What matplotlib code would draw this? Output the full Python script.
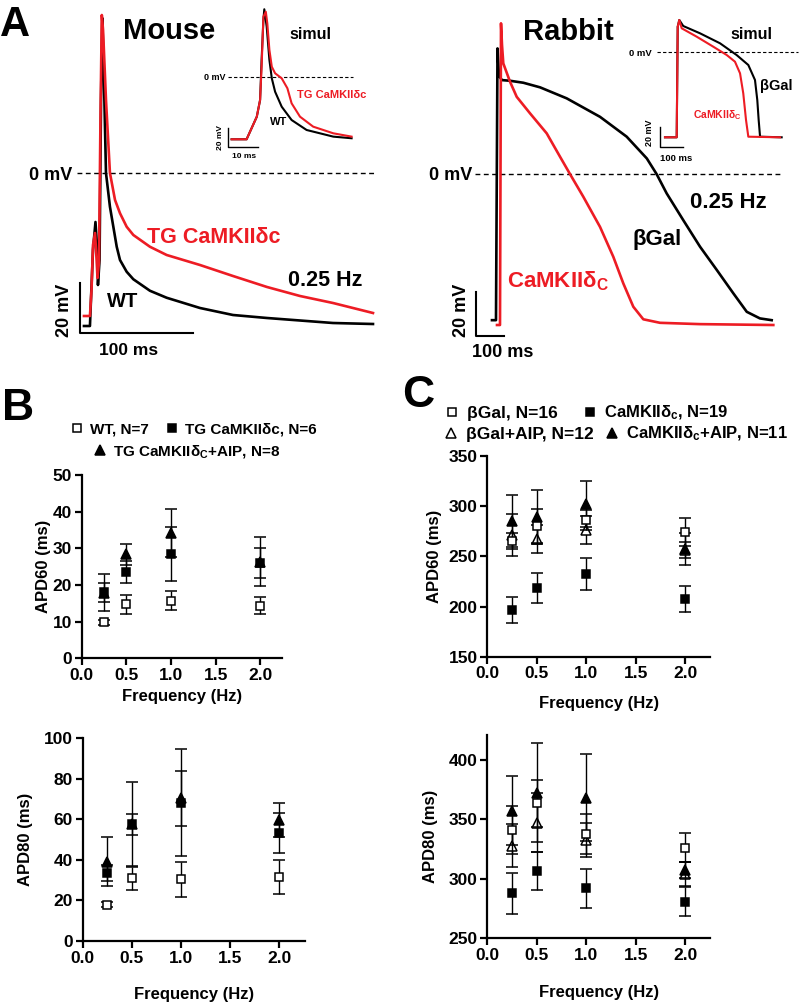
import matplotlib
matplotlib.use('Agg')
import matplotlib.pyplot as plt
from matplotlib.ticker import FormatStrFormatter, MultipleLocator

plt.rcParams['font.family'] = ['Liberation Sans', 'DejaVu Sans']
plt.rcParams['font.weight'] = 'bold'
plt.rcParams['axes.labelweight'] = 'bold'
plt.rcParams['mathtext.fontset'] = 'custom'
plt.rcParams['mathtext.rm'] = 'Liberation Sans:bold'
plt.rcParams['mathtext.bf'] = 'Liberation Sans:bold'
plt.rcParams['mathtext.it'] = 'Liberation Sans:bold'

# ---------------- data: action potential traces (time ms, voltage mV) ----------------
mouse_wt_t = [3.5, 8.8, 9.7, 11.5, 13.7, 15.0, 15.9, 17.3, 18.6, 19.7, 20.8, 23.0, 26.5,
              29.5, 32.5, 35.4, 41.3, 47.2, 61.9, 76.7, 106.2, 135.4, 165.5, 223.9, 259.3]
mouse_wt_v = [-61.2, -61.2, -50.8, -30.8, -19.6, -28.8, -44.8, -34.8, 29.2, 62.0, 45.2, 0.0, -13.5,
              -21.5, -29.5, -34.8, -39.5, -42.5, -47.1, -49.9, -54.0, -56.8, -58.0, -60.0, -60.4]
mouse_tg_t = [3.5, 8.8, 10.2, 11.5, 13.3, 14.6, 15.5, 16.8, 18.1, 19.3, 20.4, 23.0, 26.5,
              31.0, 35.4, 41.3, 47.2, 61.9, 76.7, 106.2, 135.4, 165.5, 194.7, 223.9, 259.3]
mouse_tg_v = [-57.2, -57.2, -46.8, -28.8, -24.0, -34.0, -42.0, -35.6, 21.2, 63.2, 57.2, 29.2, 0.0,
              -10.8, -16.1, -21.5, -24.8, -29.5, -32.8, -36.8, -41.2, -45.6, -49.2, -52.0, -56.0]

sim_mouse_wt_t = [1.2, 6.2, 9.6, 10.7, 11.2, 11.8, 12.1, 12.9, 13.8, 14.6, 15.7, 17.9, 21.2, 26.2, 35.1, 41.2]
sim_mouse_wt_v = [-65.6, -65.6, -41.8, -24.2, 17.9, 60.0, 71.3, 52.9, 17.9, -1.4, -15.5, -31.3, -45.3, -55.8, -62.8, -64.5]
sim_mouse_tg_t = [1.2, 6.2, 9.6, 10.7, 11.2, 11.8, 12.6, 13.1, 13.8, 14.6, 15.7, 17.9, 19.8, 21.2, 24.0, 28.4, 35.1, 41.2]
sim_mouse_tg_v = [-65.6, -65.6, -41.8, -24.2, 10.8, 63.5, 68.7, 56.5, 28.4, 10.8, 3.9, -1.4, -11.9, -27.7, -41.8, -52.3, -59.3, -62.8]

rabbit_bgal_t = [57.1, 71.4, 76.8, 82.1, 92.9, 121.4, 169.0, 229.0, 324.0, 443.0, 538.0, 610.0, 645.0,
                 681.0, 740.0, 800.0, 860.0, 919.0, 967.0, 1014.0, 1056.0]
rabbit_bgal_v = [-66.4, -66.4, 57.1, 44.5, 42.7, 42.4, 41.5, 39.4, 34.4, 26.0, 17.0, 7.1, 0.0,
                 -8.8, -20.9, -33.0, -43.6, -54.2, -62.6, -65.6, -66.4]
rabbit_camk_t = [75.0, 85.7, 89.3, 92.9, 97.5, 121.4, 145.4, 192.9, 252.5, 300.0, 335.7, 383.2, 442.9,
                 490.4, 526.1, 561.8, 597.5, 657.1, 800.0, 1061.8]
rabbit_camk_v = [-68.6, -68.6, 68.5, 58.6, 50.3, 42.0, 35.1, 27.6, 18.5, 7.9, 0.0, -10.3, -24.0,
                 -37.6, -49.7, -60.3, -66.0, -67.6, -68.2, -68.6]

sim_rabbit_bgal_t = [21.7, 72.6, 77.0, 83.9, 101.0, 174.0, 261.0, 333.0, 384.0, 413.0, 423.0, 429.0, 435.0, 529.0]
sim_rabbit_bgal_v = [-85.3, -85.3, 25.3, 32.0, 26.0, 18.7, 8.7, -3.0, -13.0, -28.0, -48.0, -68.0, -84.7, -85.3]
sim_rabbit_camk_t = [21.7, 72.6, 77.0, 83.9, 94.3, 159.6, 231.7, 290.0, 326.0, 348.0, 362.0, 374.0, 384.0, 522.0]
sim_rabbit_camk_v = [-85.3, -85.3, 25.3, 32.0, 23.7, 15.3, 5.3, -3.0, -9.7, -21.3, -41.3, -68.0, -84.7, -85.3]

# ---------------- data: APD summary (mean, SEM) ----------------
freqs = [0.25, 0.5, 1.0, 2.0]

wt60 = [9.8, 14.7, 15.7, 14.4];        wt60_err = [0.6, 2.7, 2.6, 2.4]
tg60 = [18.0, 23.5, 28.4, 26.1];       tg60_err = [5.0, 3.0, 7.3, 4.1]
tgaip60 = [17.9, 28.4, 34.1, 26.4];    tgaip60_err = [2.6, 2.9, 6.5, 6.8]

wt80 = [18.0, 30.9, 30.4, 31.7];       wt80_err = [1.0, 5.5, 8.7, 8.3]
tg80 = [33.7, 57.7, 68.2, 53.4];       tg80_err = [4.0, 5.2, 26.3, 9.8]
tgaip80 = [39.1, 57.8, 70.4, 59.7];    tgaip80_err = [12.0, 20.8, 13.6, 8.3]

bgal60 = [265.6, 280.6, 286.2, 274.3];      bgal60_err = [8.0, 17.0, 10.0, 13.6]
camk60 = [196.5, 218.2, 232.4, 207.8];      camk60_err = [13.3, 15.0, 16.0, 12.8]
bgalaip60 = [271.3, 267.3, 276.3, 256.4];   bgalaip60_err = [21.0, 14.0, 14.0, 8.0]
camkaip60 = [285.2, 288.9, 302.2, 257.4];   camkaip60_err = [26.0, 27.0, 23.0, 16.0]

bgal80 = [341.1, 363.5, 337.7, 326.2];      bgal80_err = [20.5, 20.0, 17.0, 12.0]
camk80 = [287.8, 306.9, 292.0, 280.8];      camk80_err = [17.0, 16.0, 16.5, 12.0]
bgalaip80 = [327.9, 347.2, 332.7, 303.8];   bgalaip80_err = [18.0, 25.0, 14.0, 10.0]
camkaip80 = [357.1, 372.5, 368.3, 307.4];   camkaip80_err = [29.0, 41.5, 36.5, 7.0]

# ---------------- layout helpers ----------------
RED = '#ed1c24'
W, H = 800, 1006
fig = plt.figure(figsize=(W / 100, H / 100), dpi=100)


def box(l, t, r, b):
    return [l / W, 1 - b / H, (r - l) / W, (b - t) / H]


def P(x, y):
    return (x / W, 1 - y / H)


def txt(x, y, s, size, color='k', ha='left', va='baseline', rot=0):
    fig.text(*P(x, y), s, fontsize=size, color=color, ha=ha, va=va, rotation=rot,
             fontweight='bold')


DASH = (0, (3.5, 2.5))

# ---------------- Panel A: mouse ----------------
axm = fig.add_axes(box(0, 0, 400, 360))
axm.set_axis_off()
axm.set_xlim(-70.8, 283.2)
axm.set_ylim(-74.8, 69.2)
axm.plot([-2.7, 261], [0, 0], color='k', lw=1.0, ls=DASH)
axm.plot(mouse_wt_t, mouse_wt_v, color='k', lw=1.9, solid_joinstyle='round')
axm.plot(mouse_tg_t, mouse_tg_v, color=RED, lw=1.9, solid_joinstyle='round')
axm.plot([0, 0, 100], [-44, -64, -64], color='k', lw=1.5)

axmi = fig.add_axes(box(195, 0, 360, 160))
axmi.set_axis_off()
axmi.set_xlim(-11, 44)
axmi.set_ylim(-87.4, 81.05)
axmi.plot([0, 41.7], [0, 0], color='k', lw=0.8, ls=(0, (3, 2)))
axmi.plot(sim_mouse_wt_t, sim_mouse_wt_v, color='k', lw=1.5, solid_joinstyle='round')
axmi.plot(sim_mouse_tg_t, sim_mouse_tg_v, color=RED, lw=1.5, solid_joinstyle='round')
axmi.plot([0, 0, 10], [-54, -74, -74], color='k', lw=1.0)

# ---------------- Panel A: rabbit ----------------
axr = fig.add_axes(box(400, 0, 800, 360))
axr.set_axis_off()
axr.set_xlim(-271.4, 1157.1)
axr.set_ylim(-84.5, 79.1)
axr.plot([-3.6, 1096], [0, 0], color='k', lw=1.0, ls=DASH)
axr.plot(rabbit_bgal_t, rabbit_bgal_v, color='k', lw=1.9, solid_joinstyle='round')
axr.plot(rabbit_camk_t, rabbit_camk_v, color=RED, lw=1.9, solid_joinstyle='round')
axr.plot([0, 0, 100], [-53.6, -73.6, -73.6], color='k', lw=1.5)

axri = fig.add_axes(box(620, 0, 800, 160))
axri.set_axis_off()
axri.set_xlim(-173.9, 608.7)
axri.set_ylim(-108, 52)
axri.plot([-13, 600], [0, 0], color='k', lw=0.8, ls=(0, (3, 2)))
axri.plot(sim_rabbit_bgal_t, sim_rabbit_bgal_v, color='k', lw=1.5, solid_joinstyle='round')
axri.plot(sim_rabbit_camk_t, sim_rabbit_camk_v, color=RED, lw=1.5, solid_joinstyle='round')
axri.plot([0, 0, 100], [-75, -95, -95], color='k', lw=1.0)

# texts panel A
txt(0, 36.5, 'A', 30)
txt(123, 39, 'Mouse', 21)
txt(310, 39, 'simul', 11.5, ha='center')
txt(225, 80, '0 mV', 6.5, ha='right')
txt(297, 98, 'TG CaMKIIδc', 8, color=RED)
txt(270, 125, 'WT', 8)
txt(220, 138, '20 mV', 6, ha='center', va='center', rot=90)
txt(232, 158, '10 ms', 6)
txt(72, 180, '0 mV', 13, ha='right')
txt(147, 243, 'TG CaMKIIδc', 15.5, color=RED)
txt(288, 286, '0.25 Hz', 15.5)
txt(107, 307, 'WT', 14.5)
txt(64.5, 310, '20 mV', 13, ha='center', va='center', rot=90)
txt(99, 355, '100 ms', 12.5)

txt(523, 40, 'Rabbit', 21)
txt(751, 39, 'simul', 11.5, ha='center')
txt(652, 56, '0 mV', 6.8, ha='right')
txt(760, 90, 'βGal', 10.5)
txt(693, 118, 'CaMKIIδ$_\\mathbf{C}$', 7.5, color=RED)
txt(649, 133, '20 mV', 6.5, ha='center', va='center', rot=90)
txt(660, 161, '100 ms', 6.8)
txt(472, 180, '0 mV', 13, ha='right')
txt(690, 208, '0.25 Hz', 16)
txt(633, 245, 'βGal', 16)
txt(507, 287, 'CaMKIIδ$_\\mathbf{C}$', 16, color=RED)
txt(462, 310, '20 mV', 13, ha='center', va='center', rot=90)
txt(472, 357, '100 ms', 13)

txt(2, 420, 'B', 32)
txt(402, 407, 'C', 32)


# ---------------- Panels B and C ----------------
def style(ax, xmax, ylo, yhi, ystep):
    ax.set_xlim(0, xmax)
    ax.set_ylim(ylo, yhi)
    for s in ('top', 'right'):
        ax.spines[s].set_visible(False)
    for s in ('left', 'bottom'):
        ax.spines[s].set_linewidth(1.6)
    ax.xaxis.set_major_locator(MultipleLocator(0.5))
    ax.xaxis.set_major_formatter(FormatStrFormatter('%.1f'))
    ax.yaxis.set_major_locator(MultipleLocator(ystep))
    ax.tick_params(direction='out', length=5, width=1.6, labelsize=12.5, pad=2)
    for lab in ax.get_xticklabels() + ax.get_yticklabels():
        lab.set_fontweight('bold')
    ax.patch.set_alpha(0)


def series(ax, y, e, marker, filled, ms, z):
    return ax.errorbar(freqs, y, yerr=e, fmt=marker, ms=ms,
                       mfc='k' if filled else 'white', mec='k', mew=1.1,
                       ecolor='k', elinewidth=1.0, capsize=4, capthick=1.0,
                       clip_on=False, zorder=z)


def legend_entry(handle, label, x, y, size):
    lg = fig.legend([handle], [label], loc='center left', bbox_to_anchor=P(x, y),
                    frameon=False, borderpad=0, borderaxespad=0, handlelength=0.8,
                    handletextpad=0.45, prop={'size': size, 'weight': 'bold'})
    return lg


# B top: APD60
axb1 = fig.add_axes(box(81.7, 475, 281.7, 658.3))
style(axb1, 2.24, 0, 50, 10)
h_tgaip = series(axb1, tgaip60, tgaip60_err, '^', True, 6.5, 3)
h_wt = series(axb1, wt60, wt60_err, 's', False, 6, 4)
h_tg = series(axb1, tg60, tg60_err, 's', True, 6, 5)
axb1.set_ylabel('APD60 (ms)', fontsize=12)
axb1.set_xlabel('Frequency (Hz)', fontsize=12)
axb1.yaxis.set_label_coords(-0.1535, 0.5)
axb1.xaxis.set_label_coords(0.5, -0.1675)

# B bottom: APD80
axb2 = fig.add_axes(box(82.7, 738.3, 305, 941))
style(axb2, 2.26, 0, 100, 20)
series(axb2, tgaip80, tgaip80_err, '^', True, 6.5, 3)
series(axb2, wt80, wt80_err, 's', False, 6, 4)
series(axb2, tg80, tg80_err, 's', True, 6, 5)
axb2.set_ylabel('APD80 (ms)', fontsize=12)
axb2.set_xlabel('Frequency (Hz)', fontsize=12)
axb2.yaxis.set_label_coords(-0.224, 0.5)
axb2.xaxis.set_label_coords(0.5, -0.227)

legend_entry(h_wt[0], 'WT, N=7', 71, 429, 11)
legend_entry(h_tg[0], 'TG CaMKIIδc, N=6', 166, 429, 11)
legend_entry(h_tgaip[0], 'TG CaMKIIδ$_\\mathbf{C}$+AIP, N=8', 94, 451, 11)

# C top: APD60
axc1 = fig.add_axes(box(487.3, 456, 710, 656.7))
style(axc1, 2.25, 150, 350, 50)
h_baip = series(axc1, bgalaip60, bgalaip60_err, '^', False, 6.5, 3)
h_caip = series(axc1, camkaip60, camkaip60_err, '^', True, 6.5, 4)
h_bgal = series(axc1, bgal60, bgal60_err, 's', False, 6, 5)
h_camk = series(axc1, camk60, camk60_err, 's', True, 6, 6)
axc1.set_ylabel('APD60 (ms)', fontsize=12)
axc1.set_xlabel('Frequency (Hz)', fontsize=12)
axc1.yaxis.set_label_coords(-0.203, 0.5)
axc1.xaxis.set_label_coords(0.5, -0.196)

# C bottom: APD80
axc2 = fig.add_axes(box(487.3, 735, 710, 938.3))
style(axc2, 2.25, 250, 421, 50)
series(axc2, bgalaip80, bgalaip80_err, '^', False, 6.5, 3)
series(axc2, camkaip80, camkaip80_err, '^', True, 6.5, 4)
series(axc2, bgal80, bgal80_err, 's', False, 6, 5)
series(axc2, camk80, camk80_err, 's', True, 6, 6)
axc2.set_ylabel('APD80 (ms)', fontsize=12)
axc2.set_xlabel('Frequency (Hz)', fontsize=12)
axc2.yaxis.set_label_coords(-0.221, 0.5)
axc2.xaxis.set_label_coords(0.5, -0.23)

legend_entry(h_bgal[0], 'βGal, N=16', 445, 413, 12.5)
legend_entry(h_camk[0], 'CaMKIIδ$_\\mathbf{c}$, N=19', 583, 413, 12)
legend_entry(h_baip[0], 'βGal+AIP, N=12', 444, 434, 12.5)
legend_entry(h_caip[0], 'CaMKIIδ$_\\mathbf{c}$+AIP, N=11', 605, 434, 12)

fig.savefig('out.png', dpi=100)
